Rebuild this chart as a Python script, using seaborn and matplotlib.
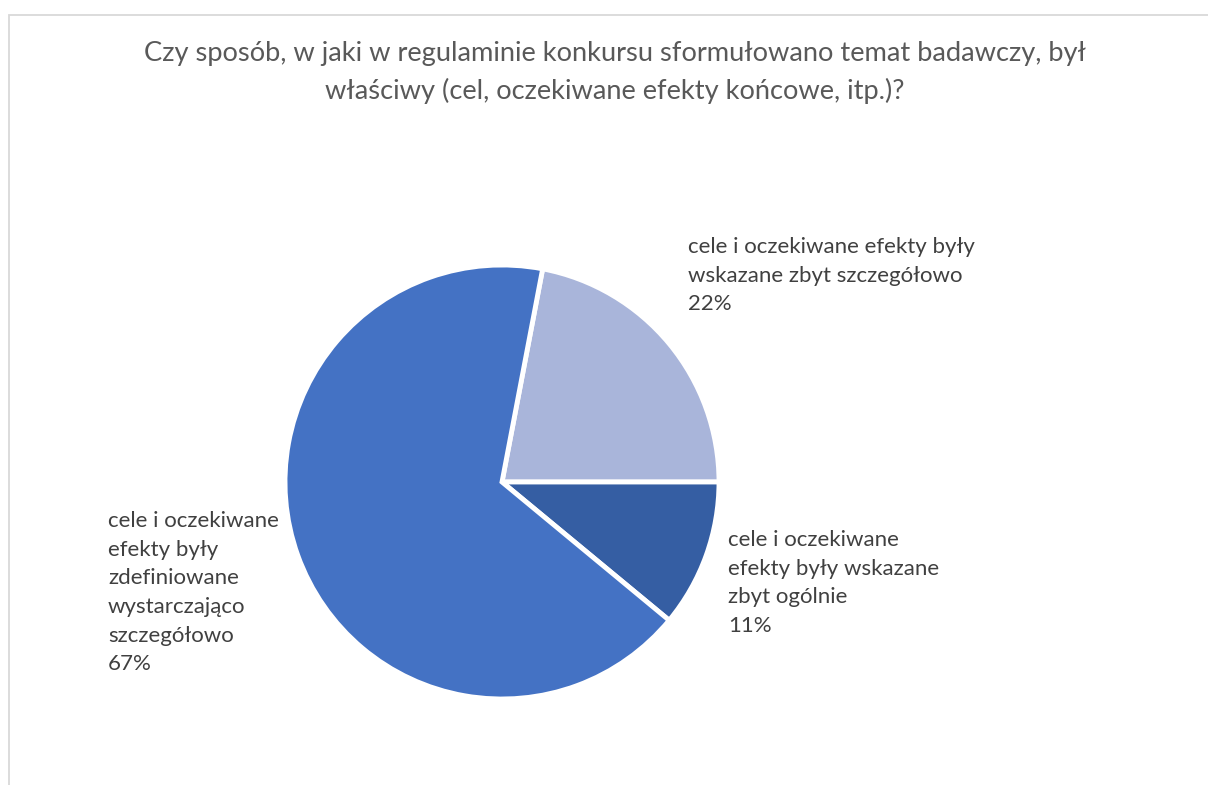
import matplotlib
matplotlib.use("Agg")
import matplotlib.pyplot as plt
import seaborn as sns
from matplotlib.patches import Rectangle

# ---- data ----
title = ("Czy sposób, w jaki w regulaminie konkursu sformułowano temat badawczy, był\n"
         "właściwy (cel, oczekiwane efekty końcowe, itp.)?")
categories = [
    "cele i oczekiwane efekty były\nwskazane zbyt szczegółowo",
    "cele i oczekiwane\nefekty były wskazane\nzbyt ogólnie",
    "cele i oczekiwane\nefekty były\nzdefiniowane\nwystarczająco\nszczegółowo",
]
values = [22, 11, 67]
colors = ["#A9B5DA", "#355EA3", "#4472C4"]

sns.set_theme(style="white")
plt.rcParams["font.family"] = ["Lato", "DejaVu Sans"]

W, H = 1208, 785
fig = plt.figure(figsize=(W / 100, H / 100), dpi=100)
fig.patch.set_facecolor("white")

# chart area border (cropped at right and bottom)
fig.add_artist(Rectangle((8.5 / W, -0.05), 1.2, 1 - 14.5 / H + 0.05,
                         transform=fig.transFigure, fill=False,
                         edgecolor="#D9D9D9", linewidth=1.3))

cx, cy, r = 502, 482, 217
ax = fig.add_axes([(cx - r) / W, (H - cy - r) / H, 2 * r / W, 2 * r / H])
ax.pie(values, colors=colors, startangle=360 * values[0] / sum(values),
       counterclock=False, radius=1,
       wedgeprops=dict(edgecolor="white", linewidth=3.5))
ax.set_xlim(-1, 1)
ax.set_ylim(-1, 1)
ax.set_aspect("equal")
ax.axis("off")

fig.text(615 / W, 1 - 41 / H, title, ha="center", va="top", fontsize=19.6,
         color="#595959", linespacing=1.55)

label_pos = [(688, 237), (728, 530), (108, 511)]
for cat, v, (px, py) in zip(categories, values, label_pos):
    fig.text(px / W, 1 - py / H, f"{cat}\n{v}%", ha="left", va="top",
             fontsize=16, color="#404040", linespacing=1.54)

fig.savefig("out.png", dpi=100)
